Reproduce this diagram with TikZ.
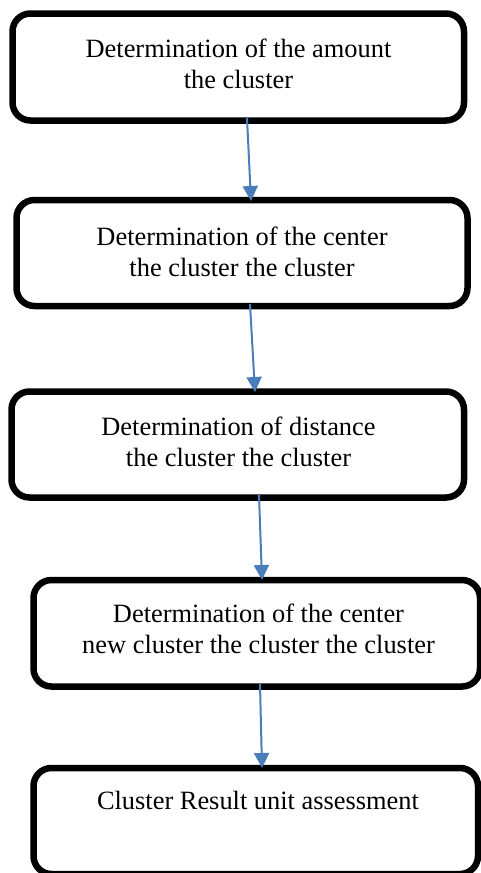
\documentclass[tikz,border=0pt]{standalone}
\usepackage{fontspec}
\setmainfont{Liberation Serif}
\usetikzlibrary{arrows.meta}
\definecolor{flowblue}{RGB}{74,126,187}
\tikzset{
  stepbox/.style={draw=black, line width=6.5pt, rounded corners=18pt,
    inner sep=0pt, fill=none},
  steptext/.style={align=center, inner sep=0pt,
    font=\fontsize{26.4}{31}\selectfont},
  flow/.style={draw=flowblue, line width=2pt,
    -{Triangle[length=15pt,width=15pt]}}
}
\begin{document}
\begin{tikzpicture}[x=1pt,y=-1pt]
  \useasboundingbox (0,0) rectangle (481,873);
  % process boxes
  \node[stepbox, minimum width=451.5pt, minimum height=107pt] (b1) at (238.25,67) {};
  \node[stepbox, minimum width=451pt, minimum height=106pt] (b2) at (242,253) {};
  \node[stepbox, minimum width=452.5pt, minimum height=106pt] (b3) at (237.75,444.5) {};
  \node[stepbox, minimum width=446.5pt, minimum height=106.5pt] (b4) at (256.75,633.25) {};
  \node[stepbox, minimum width=444.5pt, minimum height=106pt] (b5) at (255.75,821) {};
  % box labels
  \node[steptext] (t1) at (238.5,63.5) {Determination of the amount\\the cluster};
  \node[steptext] (t2) at (242,251.5) {Determination of the center\\the cluster the cluster};
  \node[steptext] (t3) at (238.5,441.5) {Determination of distance\\the cluster the cluster};
  \node[steptext] (t4) at (258.5,628.5) {Determination of the center\\new cluster the cluster the cluster};
  \node[steptext] (t5) at (258,800) {Cluster Result unit assessment};
  % connector end points
  \coordinate (a1s) at (247,118);
  \coordinate (a1e) at (251,201);
  \coordinate (a2s) at (250,304);
  \coordinate (a2e) at (255,392);
  \coordinate (a3s) at (259,495);
  \coordinate (a3e) at (262,580);
  \coordinate (a4s) at (260,684);
  \coordinate (a4e) at (262,768);
  % connectors
  \draw[flow] (a1s) -- (a1e);
  \draw[flow] (a2s) -- (a2e);
  \draw[flow] (a3s) -- (a3e);
  \draw[flow] (a4s) -- (a4e);
\end{tikzpicture}
\end{document}
